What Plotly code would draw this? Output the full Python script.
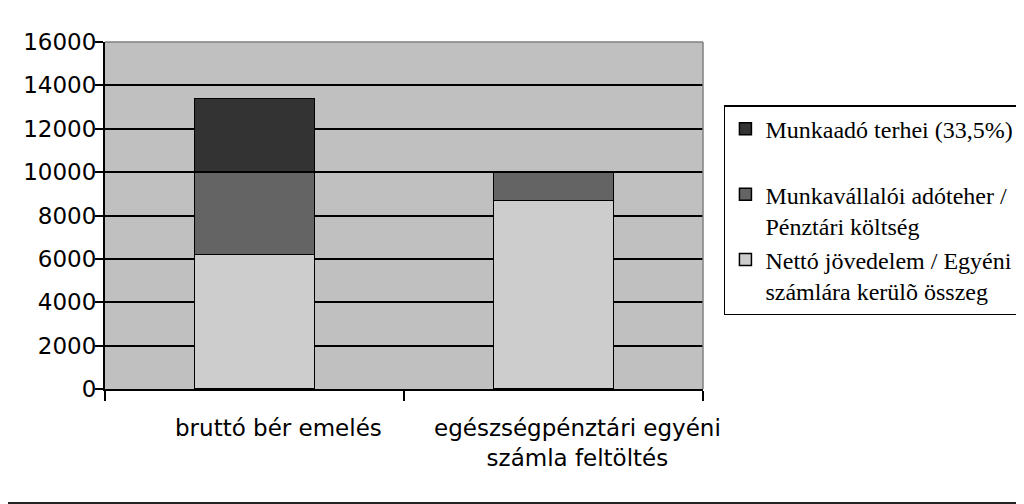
import plotly.graph_objects as go

categories = ['bruttó bér emelés', 'egészségpénztári egyéni<br>számla feltöltés']
netto = [6200, 8700]
munkavallaloi = [3800, 1300]
munkaado = [3400, 0]
y_ticks = [0, 2000, 4000, 6000, 8000, 10000, 12000, 14000, 16000]

fig = go.Figure()
fig.add_trace(go.Bar(x=categories, y=netto,
                     name='Nettó jövedelem / Egyéni<br>számlára kerülõ összeg',
                     marker=dict(color='#cdcdcd', line=dict(color='black', width=1.5))))
fig.add_trace(go.Bar(x=categories, y=munkavallaloi,
                     name='Munkavállalói adóteher /<br>Pénztári költség',
                     marker=dict(color='#646464', line=dict(color='black', width=1.5))))
fig.add_trace(go.Bar(x=categories, y=munkaado,
                     name='Munkaadó terhei (33,5%)<br> ',
                     marker=dict(color='#333333', line=dict(color='black', width=1.5))))

# page has an 8px body margin, so margins are shifted by 8
fig.update_layout(
    width=1024, height=504,
    margin=dict(l=97, r=329, t=34, b=123),
    barmode='stack', bargap=0.6,
    plot_bgcolor='#c0c0c0', paper_bgcolor='white',
    font=dict(family='DejaVu Sans', size=23, color='black'),
    legend=dict(x=1.035, y=0.818, xanchor='left', yanchor='top',
                traceorder='reversed', valign='top',
                bordercolor='black', borderwidth=1.5, bgcolor='white',
                font=dict(family='Liberation Serif', size=24, color='black')),
    showlegend=True,
)
fig.update_yaxes(range=[0, 16000], tickvals=y_ticks, tickformat='d', showgrid=True,
                 gridcolor='black', gridwidth=1.5, zeroline=False, automargin=False,
                 showline=True, linecolor='black', linewidth=2,
                 ticks='outside', ticklen=8, tickcolor='black', tickwidth=2,
                 ticklabelstandoff=-6)
fig.update_xaxes(range=[-0.5, 1.5], showline=True, linecolor='black', linewidth=2,
                 automargin=False, showticklabels=False, ticks='outside',
                 tickson='boundaries', ticklen=10, tickcolor='black', tickwidth=2)

# category labels sit a bit right of the bar centres in the original
for cat in categories:
    fig.add_annotation(x=cat, y=0, xref='x', yref='paper', text=cat,
                       showarrow=False, yanchor='top', yshift=-24, xshift=24,
                       font=dict(family='DejaVu Sans', size=23, color='black'))

# gray plot border on top/right, dark frame line at the bottom
fig.add_shape(type='line', xref='paper', yref='paper', x0=0, x1=1, y0=1, y1=1,
              line=dict(color='#808080', width=1.5))
fig.add_shape(type='line', xref='paper', yref='paper', x0=1, x1=1, y0=0, y1=1,
              line=dict(color='#808080', width=1.5))
fig.add_shape(type='line', xref='paper', yref='paper', x0=-0.17, x1=1.54, y0=-0.33, y1=-0.33,
              line=dict(color='#222222', width=3))

fig.write_html("out.html")
